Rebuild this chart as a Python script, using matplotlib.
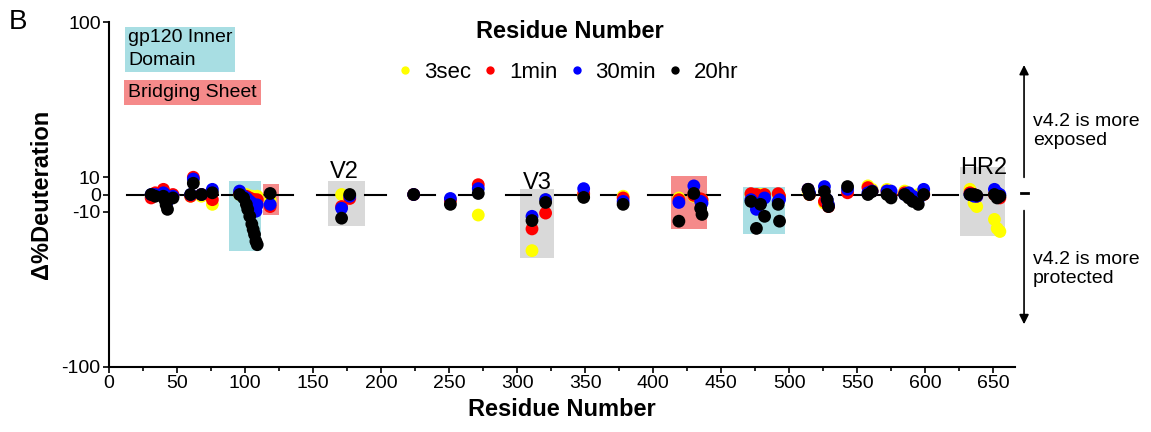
import matplotlib
matplotlib.use('Agg')
from matplotlib import pyplot as plt
from matplotlib.patches import Rectangle
from matplotlib.lines import Line2D

plt.rcParams['font.family'] = ['Liberation Sans', 'DejaVu Sans']

# peptide position (residue) and difference in %deuteration per time point
residues = [31, 34, 40, 41, 42, 43, 47, 60, 62, 68, 76,
            96, 99, 101, 102, 103.5, 105, 106, 107, 108, 109, 118.5,
            171, 177, 224, 251, 271.5, 311, 321, 349, 378,
            419, 430, 435, 436, 472, 476, 479, 482, 492, 493,
            514, 515, 526, 528, 529, 543, 558, 561, 572, 575,
            585, 588, 591, 595, 599, 633, 636, 638, 651, 653, 655]
dd_3sec = [-1, 0, -1, 0, -2, -3, -1, -1, 8, -1, -5.7,
           0, 0, 0, -1, -1, -1, -2, -2, -2, -1, -3.4,
           0, -1, 0, -3, -10.5, -17.8, -3, 0, -1,
           -2, -1, -4, -3, 0, 0, 0, 0, 0, -1,
           2, 0, -5, -4, -6, 2, 5, 3, 3, 1,
           2, 0, -2, 0, 1, 3, -5, -7, -11.2, -12.8, -13.4]
dd_1min = [-2, 1, 3, 0, -1, -2, 0, -1, 10, 0, -3,
           1, -1, -1, -2, -2, -3, -3, -3, -4, -3, -7,
           -7, -2.3, 0, -3.5, 5.7, -12.9, -10.2, 0.6, -2,
           -3, -0.5, -2.5, -3, 0.5, 0, -1, 0, 0.5, -1,
           3, 0, -4, -5, -7, 1, 4, 2, 2, 0,
           1, -1, -3, -2, 0, 1, 0, -1, 0, -1, -2]
dd_30min = [0, 0, 1, 0, -2, -4, -1, 0, 9, 0, 3,
            2, -1, -2, -3, -4, -5, -6, -7, -9.7, -6, -5.7,
            -8, -1, 0, -2.3, 3.4, -10.7, -2.9, 3.4, -4,
            -4.6, 5, -4, -5, -3, -8.6, -5, -2, -4, -3,
            3, 1, 4.6, -3, -6, 3, 1, 2, 2, 2,
            0, 1, -1, -3, 3, 0, -1, -1, 3, 1, 0]
dd_20hr = [0, -1, -1, -3, -6, -8.6, -2, 0, 6.5, 0, 1,
           0, -2, -5.7, -8.6, -10.7, -12, -13, -14, -15.5, -16.3, 0.6,
           -11, 0, 0, -5.7, 0.6, -11.4, -4.6, -1.7, -5.7,
           -11.5, 0.6, -8, -10.4, -4, -12.8, -5.7, -10.7, -5.7, -11.5,
           3, 0, 1.7, -3, -7, 4.6, 0, 1.7, 0, -2,
           0, -2, -4, -5.7, 0, 0, 0, -0.5, 0, -2, -1]

# sequence coverage (zero line segments)
coverage_start = [13, 83, 153, 188, 224, 257, 292, 328, 362, 396, 468, 502, 537, 606, 633]
coverage_end = [80, 135, 177, 204, 240, 273, 310, 345, 381, 449, 484, 530, 600, 624, 657]

# highlighted regions
region_start = [88, 113, 161, 302, 413, 466, 626]
region_end = [112, 125, 188, 327, 440, 497, 659]
region_low = [-18, -10.5, -12.4, -20, -13, -14, -14.4]
region_high = [8, 6, 8, 3, 10.2, 4.6, 11.7]
region_kind = ['inner', 'bridge', 'loop', 'loop', 'bridge', 'inner', 'loop']

loop_names = ['V2', 'V3', 'HR2']
loop_x = [173, 315, 643]
loop_y = [9.7, 3.4, 10.5]

kind_color = {'inner': '#a8dee3', 'bridge': '#f58a8a', 'loop': '#d9d9d9'}

fig = plt.figure(figsize=(11.51, 4.32), dpi=100)
ax = fig.add_axes([0.0947, 0.1505, 0.787, 0.7985])

for x0, x1, lo, hi, kind in zip(region_start, region_end, region_low, region_high, region_kind):
    ax.add_patch(Rectangle((x0, lo), x1 - x0, hi - lo, facecolor=kind_color[kind],
                           edgecolor='none', zorder=1))

for x0, x1 in zip(coverage_start, coverage_end):
    ax.plot([x0, x1], [0, 0], color='black', lw=1.5, zorder=2)

ax.scatter(residues, dd_3sec, s=85, color='#ffff00', edgecolors='none', zorder=3)
ax.scatter(residues, dd_1min, s=85, color='#ff0000', edgecolors='none', zorder=4)
ax.scatter(residues, dd_30min, s=85, color='#0000ff', edgecolors='none', zorder=5)
ax.scatter(residues, dd_20hr, s=85, color='black', edgecolors='none', zorder=6)

for name, x, y in zip(loop_names, loop_x, loop_y):
    ax.text(x, y, name, fontsize=17, ha='center', va='baseline')

ax.set_yscale('symlog', linthresh=10, linscale=0.1)
ax.set_ylim(-100, 100)
ax.set_xlim(0, 666)
ax.set_yticks([-100, -10, 0, 10, 100])
ax.set_yticklabels(['-100', '-10', '0', '10', '100'])
ax.yaxis.set_minor_locator(matplotlib.ticker.NullLocator())
ax.set_xticks(range(0, 651, 50))
ax.set_xticks(range(25, 666, 50), minor=True)

for side in ['top', 'right']:
    ax.spines[side].set_visible(False)
for side in ['left', 'bottom']:
    ax.spines[side].set_linewidth(1.5)
ax.tick_params(axis='both', which='major', labelsize=14, length=4, width=1.2, pad=2)
ax.tick_params(axis='x', which='minor', length=3, width=1.2)

ax.set_xlabel('Residue Number', fontsize=17, fontweight='bold', labelpad=4)
ax.set_ylabel('\u0394%Deuteration', fontsize=17, fontweight='bold', labelpad=6)

# panel letter and region key
fig.text(0.008, 0.95, 'B', fontsize=20, va='center')
fig.text(0.1112, 0.932, 'gp120 Inner\nDomain', fontsize=14, va='top', linespacing=1.45,
         bbox=dict(facecolor=kind_color['inner'], edgecolor='none', pad=2))
fig.text(0.1112, 0.806, 'Bridging Sheet', fontsize=14, va='top',
         bbox=dict(facecolor=kind_color['bridge'], edgecolor='none', pad=3))

# legend
fig.text(0.495, 0.926, 'Residue Number', fontsize=17, fontweight='bold', ha='center', va='center')
handles = [Line2D([], [], ls='none', marker='o', ms=6, mec='none', color=c)
           for c in ['#ffff00', '#ff0000', '#0000ff', 'black']]
fig.legend(handles, ['3sec', '1min', '30min', '20hr'], loc='center', bbox_to_anchor=(0.493, 0.833),
           ncol=4, frameon=False, fontsize=16, handlelength=0.8, handletextpad=0.45,
           columnspacing=0.45, borderpad=0)

# direction arrows on the right
ax.annotate('', xy=(0.8897, 0.856), xytext=(0.8897, 0.583), xycoords='figure fraction',
            arrowprops=dict(arrowstyle='-|>', lw=1.2, color='black', mutation_scale=14))
ax.annotate('', xy=(0.8897, 0.243), xytext=(0.8897, 0.519), xycoords='figure fraction',
            arrowprops=dict(arrowstyle='-|>', lw=1.2, color='black', mutation_scale=14))
fig.add_artist(Line2D([0.8868, 0.8932], [0.553, 0.553], color='black', lw=2,
                      transform=fig.transFigure))
fig.text(0.8975, 0.697, 'v4.2 is more\nexposed', fontsize=14, va='center', linespacing=1.2)
fig.text(0.8975, 0.377, 'v4.2 is more\nprotected', fontsize=14, va='center', linespacing=1.2)

fig.savefig('out.png', dpi=100)
